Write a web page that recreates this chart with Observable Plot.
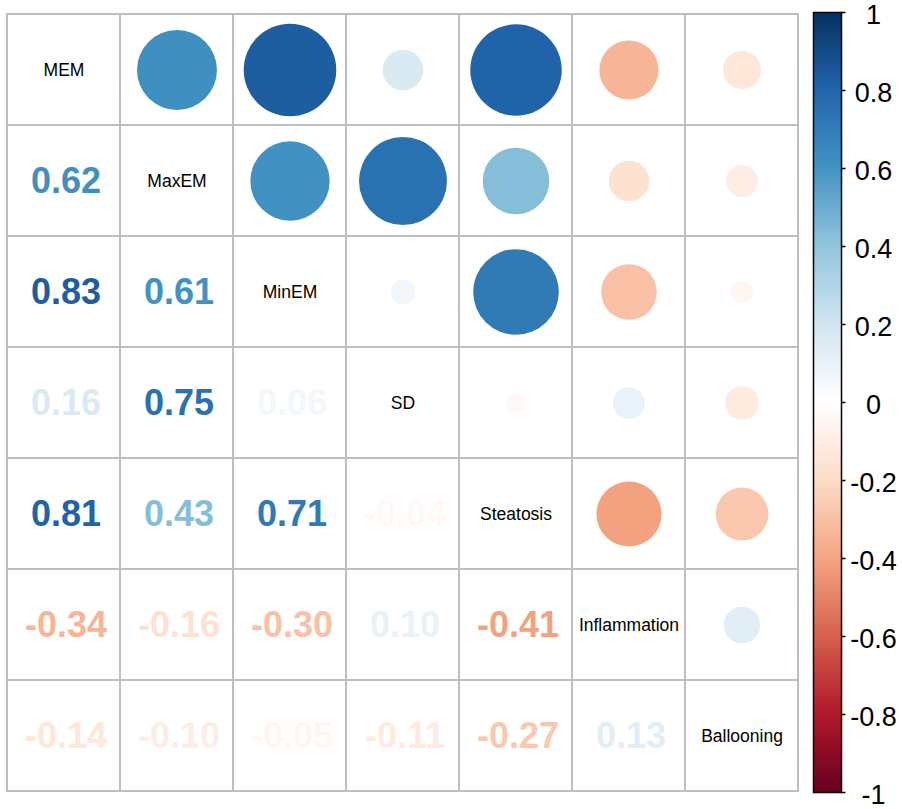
<!DOCTYPE html>
<html><head><meta charset="utf-8">
<script src="https://cdn.jsdelivr.net/npm/d3@7"></script>
<script src="https://cdn.jsdelivr.net/npm/@observablehq/plot@0.6"></script>
<style>
html,body{margin:0;padding:0;background:#fff;overflow:hidden;}
#wrap{position:relative;width:902px;height:809px;font-family:"Liberation Sans",Arial,sans-serif;}
#wrap svg{position:absolute;top:0;display:block;max-width:none !important;}
</style></head><body><div id="wrap"></div>
<script>
// Variables (diagonal labels)
const variables = ["MEM","MaxEM","MinEM","SD","Steatosis","Inflammation","Ballooning"];
// Lower-triangle correlations, one array per row (values against preceding variables)
const rowMaxEM = [0.62];
const rowMinEM = [0.83, 0.61];
const rowSD = [0.16, 0.75, 0.06];
const rowSteatosis = [0.81, 0.43, 0.71, -0.04];
const rowInflammation = [-0.34, -0.16, -0.30, 0.10, -0.41];
const rowBallooning = [-0.14, -0.10, -0.05, -0.11, -0.27, 0.13];
// Colour bar tick labels
const colorTicks = [1, 0.8, 0.6, 0.4, 0.2, 0, -0.2, -0.4, -0.6, -0.8, -1];
// RdBu palette stops from -1 to 1
const paletteDomain = [-1, -0.8, -0.6, -0.4, -0.2, 0, 0.2, 0.4, 0.6, 0.8, 1];
const palette = ["#67001F","#B2182B","#D6604D","#F4A582","#FDDBC7","#FFFFFF","#D1E5F0","#92C5DE","#4393C3","#2166AC","#053061"];

const lowerRows = [rowMaxEM, rowMinEM, rowSD, rowSteatosis, rowInflammation, rowBallooning];
const lower = [];
lowerRows.forEach((vals, k) => {
  vals.forEach((v, j) => lower.push({row: variables[k + 1], col: variables[j], v}));
});
const upper = lower.map(d => ({row: d.col, col: d.row, v: d.v}));
const grid = d3.cross(variables, variables).map(([r, c]) => ({row: r, col: c}));

const colorScale = {type: "linear", domain: paletteDomain, range: palette, interpolate: "rgb"};
const font = "'Liberation Sans', Arial, sans-serif";

const main = Plot.plot({
  width: 810, height: 809,
  marginLeft: 5, marginRight: 11, marginTop: 12, marginBottom: 17,
  x: {domain: variables, padding: 0, axis: null},
  y: {domain: variables, padding: 0, axis: null},
  color: colorScale,
  r: {type: "sqrt", domain: [0, 1], range: [0, 50.8]},
  style: {fontFamily: font, background: "white", width: "810px", height: "809px"},
  marks: [
    Plot.cell(grid, {x: "col", y: "row", fill: "white", stroke: "#BEBEBE", strokeWidth: 2, inset: 0}),
    Plot.dot(upper, {x: "col", y: "row", r: d => Math.abs(d.v), fill: "v"}),
    Plot.text(lower, {x: "col", y: "row", dx: 2, text: d => d.v.toFixed(2), fill: "v", fontSize: 36, fontWeight: "bold"}),
    Plot.text(variables, {x: d => d, y: d => d, text: d => d, fill: "black", fontSize: 17.5})
  ]
});

const bins = d3.range(-1, 1, 0.01).map(b => ({y1: b, y2: Math.min(1, b + 0.0105), v: b + 0.005}));
const bar = Plot.plot({
  width: 92, height: 809,
  marginLeft: 3, marginRight: 61, marginTop: 12, marginBottom: 17,
  x: {domain: [0, 1], axis: null},
  y: {domain: [-1, 1], axis: null},
  color: colorScale,
  style: {fontFamily: font, background: "white", width: "92px", height: "809px"},
  marks: [
    Plot.rect(bins, {x1: 0, x2: 1, y1: "y1", y2: "y2", fill: "v", inset: 0, shapeRendering: "crispEdges"}),
    Plot.frame({stroke: "black", strokeWidth: 1.5}),
    Plot.ruleY(colorTicks, {y: d => d, x1: 1, x2: 1.16, stroke: "black", strokeWidth: 1.5}),
    Plot.text(colorTicks, {x: 1, y: d => d, dx: 32, dy: 3, text: d => String(d), fill: "black", fontSize: 27, textAnchor: "middle"})
  ]
});

const wrap = document.getElementById("wrap");
main.style.left = "0px";
bar.style.left = "810px";
wrap.appendChild(main);
wrap.appendChild(bar);
</script>
</body></html>
